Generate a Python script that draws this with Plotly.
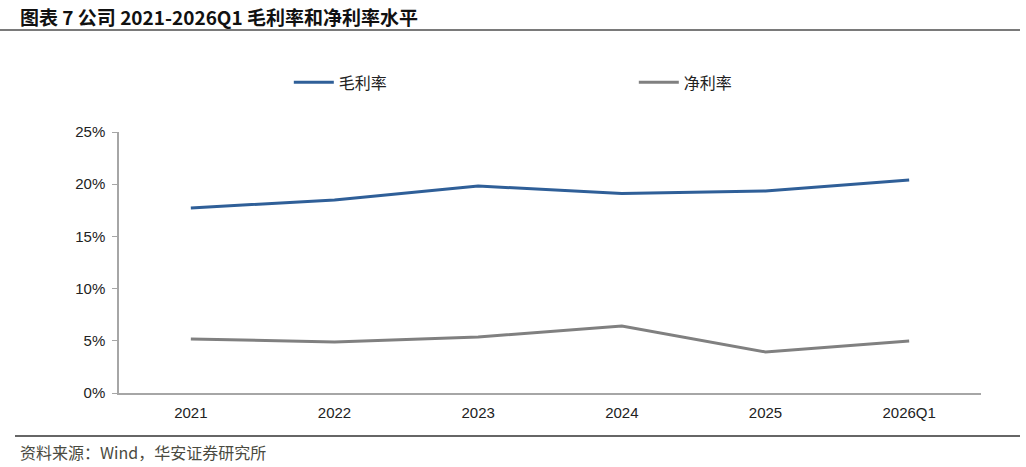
import plotly.graph_objects as go

# data
periods = ['2021', '2022', '2023', '2024', '2025', '2026Q1']
gross_margin = [0.1772, 0.1849, 0.1983, 0.1911, 0.1935, 0.2040]
net_margin = [0.0517, 0.0489, 0.0536, 0.0642, 0.0393, 0.0498]

title_text = '图表 7 公司 2021-2026Q1 毛利率和净利率水平'
source_text = '资料来源：Wind，华安证券研究所'

fig = go.Figure()

fig.add_trace(go.Scatter(
    x=periods, y=gross_margin, name='毛利率',
    mode='lines', line=dict(color='#2F5F98', width=3),
))
fig.add_trace(go.Scatter(
    x=periods, y=net_margin, name='净利率',
    mode='lines', line=dict(color='#808080', width=3),
))

cjk = 'Noto Sans CJK SC'

fig.update_layout(
    width=1026, height=467,
    margin=dict(l=119, r=45, t=132, b=74),
    plot_bgcolor='white', paper_bgcolor='white',
    showlegend=True,
    legend=dict(
        orientation='h', x=0.197, y=1.19, xanchor='left', yanchor='middle',
        entrywidth=290, entrywidthmode='pixels',
        font=dict(family=cjk, size=16, color='#222'),
        itemwidth=40, tracegroupgap=0,
    ),
    xaxis=dict(
        type='category', range=[-0.5, 5.5],
        showline=True, linecolor='#a6a6a6', linewidth=1.5,
        showgrid=False, ticks='', zeroline=False, ticklabelstandoff=5,
        tickfont=dict(family='Liberation Sans', size=15, color='#222'),
    ),
    yaxis=dict(
        range=[0, 0.25], dtick=0.05, tickformat='.0%',
        showline=True, linecolor='#a6a6a6', linewidth=1.5,
        ticks='outside', ticklen=5, tickcolor='#a6a6a6',
        showgrid=False, zeroline=False, ticklabelstandoff=4,
        tickfont=dict(family='Liberation Sans', size=15, color='#222'),
    ),
    shapes=[
        dict(type='line', xref='paper', yref='paper',
             x0=-119 / 862, x1=(1020 - 119) / 862,
             y0=1 + 102 / 261, y1=1 + 102 / 261,
             line=dict(color='#7a7a7a', width=2)),
        dict(type='line', xref='paper', yref='paper',
             x0=-104 / 862, x1=(1020 - 119) / 862,
             y0=-43 / 261, y1=-43 / 261,
             line=dict(color='#333', width=1.5)),
    ],
    annotations=[
        dict(text=title_text, xref='paper', yref='paper',
             x=-101 / 862, y=1 + 116 / 261, xanchor='left', yanchor='middle',
             showarrow=False,
             font=dict(family=cjk, size=19, color='#111', weight='bold')),
        dict(text=source_text, xref='paper', yref='paper',
             x=-101 / 862, y=-59 / 261, xanchor='left', yanchor='middle',
             showarrow=False,
             font=dict(family=cjk, size=16, color='#4a4a40')),
    ],
)

# the page has a default body margin; remove it so the figure sits at 0,0
fig.write_html('out.html', config={'displayModeBar': False},
               post_script="document.body.style.margin='0';")
